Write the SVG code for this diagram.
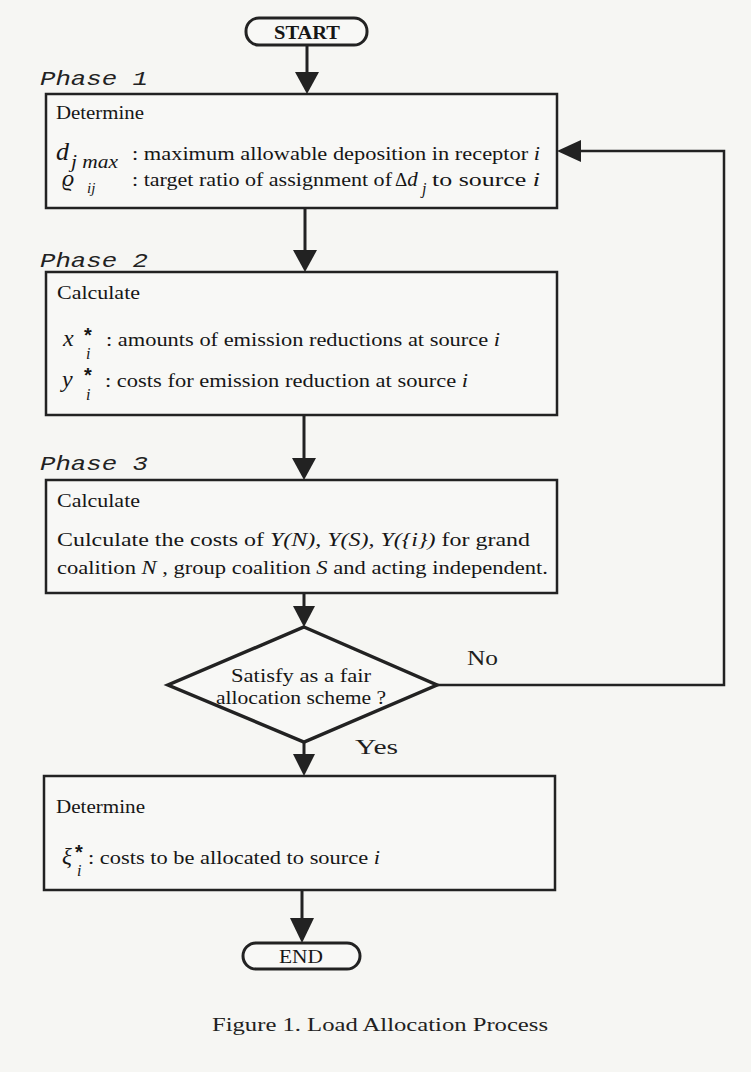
<svg xmlns="http://www.w3.org/2000/svg" width="751" height="1072" viewBox="0 0 751 1072">
<defs>
<style>
.bg{fill:#f6f6f3}
.box{fill:#f8f8f6;stroke:#222;stroke-width:2.5}
.pill{fill:#f8f8f6;stroke:#222;stroke-width:3}
.dia{fill:#f8f8f6;stroke:#222;stroke-width:3.5;stroke-linejoin:miter}
.ln{fill:none;stroke:#222;stroke-width:3}
.ah{fill:#222}
.t{font-family:"Liberation Serif",serif;font-size:19px;fill:#161616}
.it{font-family:"Liberation Serif",serif;font-style:italic;fill:#161616}
.st{font-family:"Liberation Sans",sans-serif;font-size:20px;font-weight:bold;fill:#161616}
.ph{font-family:"Liberation Mono",monospace;font-style:italic;font-size:21px;fill:#222}
.lab{font-family:"Liberation Serif",serif;font-size:20px;fill:#1e1e1e}
.cap{font-family:"Liberation Serif",serif;font-size:19px;fill:#222}
</style>
</defs>
<rect class="bg" x="0" y="0" width="751" height="1072"/>

<g id="connectors">
<line class="ln" x1="307" y1="45" x2="307" y2="73"/>
<polygon class="ah" points="295,72 319,72 307,94"/>
<line class="ln" x1="305" y1="208" x2="305" y2="251"/>
<polygon class="ah" points="293,250 317,250 305,272"/>
<line class="ln" x1="304" y1="415" x2="304" y2="459"/>
<polygon class="ah" points="292,458 316,458 304,480"/>
<line class="ln" x1="304" y1="593" x2="304" y2="608"/>
<polygon class="ah" points="293,606 315,606 304,627"/>
<line class="ln" x1="304" y1="742" x2="304" y2="756"/>
<polygon class="ah" points="293,754 315,754 304,776"/>
<line class="ln" x1="302" y1="890" x2="302" y2="919"/>
<polygon class="ah" points="290,918 314,918 302,943"/>
<polyline class="ln" style="stroke-width:2.5" points="437,685 724,685 724,151 578,151"/>
<polygon class="ah" points="557,151 581,140 581,162"/>
<text class="lab" x="467" y="665" textLength="31" lengthAdjust="spacingAndGlyphs">No</text>
<text class="lab" x="355" y="754" textLength="43" lengthAdjust="spacingAndGlyphs">Yes</text>
</g>

<g id="start">
<rect class="pill" x="246" y="18" width="121" height="27" rx="13"/>
<text class="t" x="307" y="39" text-anchor="middle" font-weight="bold" textLength="66" lengthAdjust="spacingAndGlyphs">START</text>
</g>

<g id="phase1">
<text class="ph" x="40" y="85" textLength="108" lengthAdjust="spacingAndGlyphs">Phase  1</text>
<rect class="box" x="46" y="94" width="511" height="114"/>
<text class="t" x="56" y="119" textLength="88" lengthAdjust="spacingAndGlyphs">Determine</text>
<text class="it" x="56" y="160" font-size="26">d</text>
<text class="it" x="71" y="168" font-size="19" textLength="47" lengthAdjust="spacingAndGlyphs">j max</text>
<text class="t" x="132" y="160" textLength="408" lengthAdjust="spacingAndGlyphs">: maximum allowable deposition in receptor <tspan font-style="italic">i</tspan></text>
<text class="it" x="62" y="186" font-size="24">ϱ</text>
<text class="it" x="87" y="193" font-size="15">ij</text>
<text class="t" x="132" y="186" textLength="260" lengthAdjust="spacingAndGlyphs">: target ratio of assignment of </text>
<text class="t" x="395" y="186">Δ<tspan font-style="italic" font-size="21">d</tspan></text>
<text class="it" x="422" y="194" font-size="16">j</text>
<text class="t" x="432" y="186" textLength="108" lengthAdjust="spacingAndGlyphs">to source <tspan font-style="italic">i</tspan></text>
</g>

<g id="phase2">
<text class="ph" x="40" y="267" textLength="108" lengthAdjust="spacingAndGlyphs">Phase  2</text>
<rect class="box" x="46" y="272" width="511" height="143"/>
<text class="t" x="57" y="299" textLength="83" lengthAdjust="spacingAndGlyphs">Calculate</text>
<text class="it" x="63" y="346" font-size="24">x</text>
<text class="st" x="84" y="342">*</text>
<text class="it" x="86" y="359" font-size="16">i</text>
<text class="t" x="106" y="346" textLength="394" lengthAdjust="spacingAndGlyphs">: amounts of emission reductions at source <tspan font-style="italic">i</tspan></text>
<text class="it" x="62" y="387" font-size="24">y</text>
<text class="st" x="84" y="382">*</text>
<text class="it" x="86" y="400" font-size="16">i</text>
<text class="t" x="105" y="387" textLength="363" lengthAdjust="spacingAndGlyphs">: costs for emission reduction at source <tspan font-style="italic">i</tspan></text>
</g>

<g id="phase3">
<text class="ph" x="40" y="470" textLength="108" lengthAdjust="spacingAndGlyphs">Phase  3</text>
<rect class="box" x="46" y="480" width="511" height="113"/>
<text class="t" x="57" y="507" textLength="83" lengthAdjust="spacingAndGlyphs">Calculate</text>
<text class="t" x="57" y="546" textLength="473" lengthAdjust="spacingAndGlyphs">Culculate the costs of <tspan font-style="italic">Y(N),  Y(S),  Y({i})</tspan>   for grand</text>
<text class="t" x="57" y="574" textLength="491" lengthAdjust="spacingAndGlyphs">coalition <tspan font-style="italic">N</tspan>  , group coalition <tspan font-style="italic">S</tspan>  and acting independent.</text>
</g>

<g id="decision">
<polygon class="dia" points="304,627 437,685 304,742 168,685"/>
<text class="t" x="301" y="682" text-anchor="middle" textLength="140" lengthAdjust="spacingAndGlyphs">Satisfy as a fair</text>
<text class="t" x="301" y="704" text-anchor="middle" textLength="170" lengthAdjust="spacingAndGlyphs">allocation scheme ?</text>
</g>

<g id="final">
<rect class="box" x="44" y="776" width="511" height="114"/>
<text class="t" x="56" y="813" textLength="89" lengthAdjust="spacingAndGlyphs">Determine</text>
<text class="it" x="62" y="864" font-size="23">ξ</text>
<text class="st" x="75" y="859">*</text>
<text class="it" x="77" y="876" font-size="16">i</text>
<text class="t" x="88" y="864" textLength="292" lengthAdjust="spacingAndGlyphs">: costs to be allocated to source <tspan font-style="italic">i</tspan></text>
</g>

<g id="end">
<rect class="pill" x="243" y="943" width="117" height="26" rx="13"/>
<text class="t" x="301" y="963" text-anchor="middle" textLength="44" lengthAdjust="spacingAndGlyphs">END</text>
</g>

<text class="cap" x="212" y="1031" textLength="336" lengthAdjust="spacingAndGlyphs">Figure 1. Load Allocation Process</text>
</svg>
